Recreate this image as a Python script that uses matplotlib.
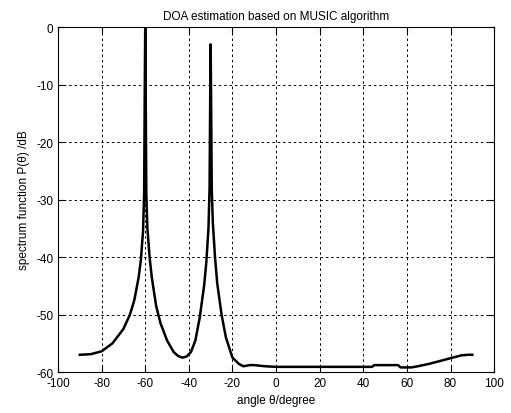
import matplotlib
matplotlib.use("Agg")
import matplotlib.pyplot as plt

plt.rcParams['font.family'] = ['Liberation Sans', 'DejaVu Sans']
plt.rcParams['font.size'] = 8.5
plt.rcParams['axes.unicode_minus'] = False

# spectrum
angle = [-90, -85, -80, -75, -70, -67, -65, -63, -62, -61, -60.5, -60.2, -60,
         -59.8, -59.5, -59, -58, -57, -55, -53, -50, -47, -45, -43, -41, -39,
         -37, -35, -33, -32, -31, -30.5, -30.2, -30, -29.8, -29.5, -29, -28,
         -27, -25, -23, -20, -17, -15, -12, -10, -5, 0, 10, 20, 30, 40, 44,
         45, 56, 57, 62, 65, 70, 75, 80, 85, 88, 90]
p_db = [-57.0, -56.9, -56.4, -55.0, -52.5, -50.0, -47.5, -43.5, -40.5, -35.5,
        -29.0, -10.0, 0.0, -10.0, -29.0, -35.0, -40.0, -43.5, -48.5, -51.5,
        -54.5, -56.5, -57.2, -57.5, -57.3, -56.5, -54.5, -50.5, -45.0, -41.0,
        -35.0, -28.0, -12.0, -3.0, -12.0, -28.0, -34.0, -40.0, -44.5, -50.0,
        -54.0, -57.5, -58.6, -59.0, -58.8, -58.8, -59.0, -59.1, -59.1, -59.1,
        -59.1, -59.1, -59.1, -58.8, -58.8, -59.2, -59.2, -59.0, -58.6, -58.1,
        -57.6, -57.1, -57.0, -57.0]

xticks = list(range(-100, 101, 20))
yticks = list(range(-60, 1, 10))

fig = plt.figure(figsize=(5.11, 4.14), dpi=100)
ax = fig.add_axes([0.1135, 0.099, 0.8535, 0.833])
ax.plot(angle, p_db, color='black', lw=1.8)

ax.set_xlim(-100, 100)
ax.set_ylim(-60, 0)
ax.set_xticks(xticks)
ax.set_yticks(yticks)
ax.grid(True, color='black', linestyle=(0, (2.5, 3)), linewidth=0.7)
ax.tick_params(direction='in', top=True, right=True, length=4, width=0.8)
for s in ax.spines.values():
    s.set_linewidth(0.8)

ax.set_title("DOA estimation based on MUSIC algorithm", fontsize=8.5)
ax.set_xlabel("angle θ/degree")
ax.set_ylabel("spectrum function P(θ) /dB")

fig.savefig("out.png", dpi=100)
